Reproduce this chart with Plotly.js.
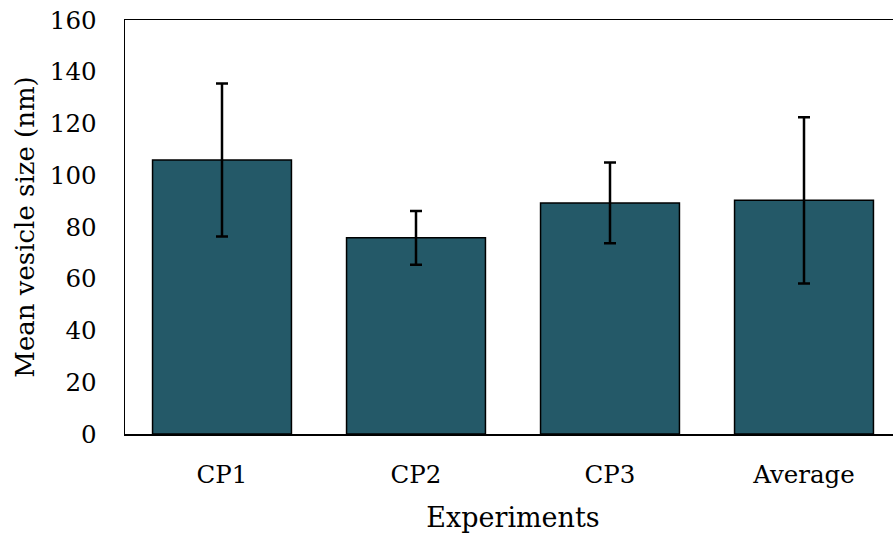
<!DOCTYPE html>
<html>
<head>
<meta charset="utf-8">
<script src="https://cdn.plot.ly/plotly-3.0.1.min.js"></script>
<style>
html, body { margin: 0; padding: 0; overflow: hidden; background: #fff; }
#chart { width: 901px; height: 535px; }
</style>
</head>
<body>
<div id="chart"></div>
<script>
var categories = ["CP1", "CP2", "CP3", "Average"];
var meanSize = [105.9, 75.8, 89.3, 90.3];
var errSize = [29.6, 10.4, 15.6, 32.1];
var yTicks = [0, 20, 40, 60, 80, 100, 120, 140, 160];

var font = "DejaVu Serif, Liberation Serif, serif";

var trace = {
  type: "bar",
  x: categories,
  y: meanSize,
  marker: { color: "#245968", line: { color: "#000000", width: 1.5 } },
  error_y: { type: "data", array: errSize, visible: true, color: "#000000", thickness: 2.5, width: 6 },
  hoverinfo: "none"
};

var layout = {
  width: 901,
  height: 535,
  margin: { l: 125, r: 0, t: 20, b: 101 },
  paper_bgcolor: "#ffffff",
  plot_bgcolor: "#ffffff",
  bargap: 0.284,
  showlegend: false,
  font: { family: font, color: "#000000", size: 24 },
  xaxis: {
    range: [-0.5, 3.5],
    showline: true, mirror: true, linecolor: "#000000", linewidth: 1.5,
    showgrid: false, zeroline: false, ticks: "",
    ticklabelstandoff: 18,
    tickfont: { family: font, size: 24.5, color: "#000000" },
    title: { text: "Experiments", font: { family: font, size: 27, color: "#000000" }, standoff: 20 }
  },
  yaxis: {
    range: [0, 160],
    tickvals: yTicks,
    showline: true, mirror: false, linecolor: "#000000", linewidth: 1.5,
    showgrid: false, zeroline: false, ticks: "",
    ticklabelstandoff: 22,
    tickfont: { family: font, size: 24.5, color: "#000000" },
    title: { text: "Mean vesicle size (nm)", font: { family: font, size: 26, color: "#000000" }, standoff: 7 }
  }
};

Plotly.newPlot("chart", [trace], layout, { displayModeBar: false, staticPlot: true });
</script>
</body>
</html>
